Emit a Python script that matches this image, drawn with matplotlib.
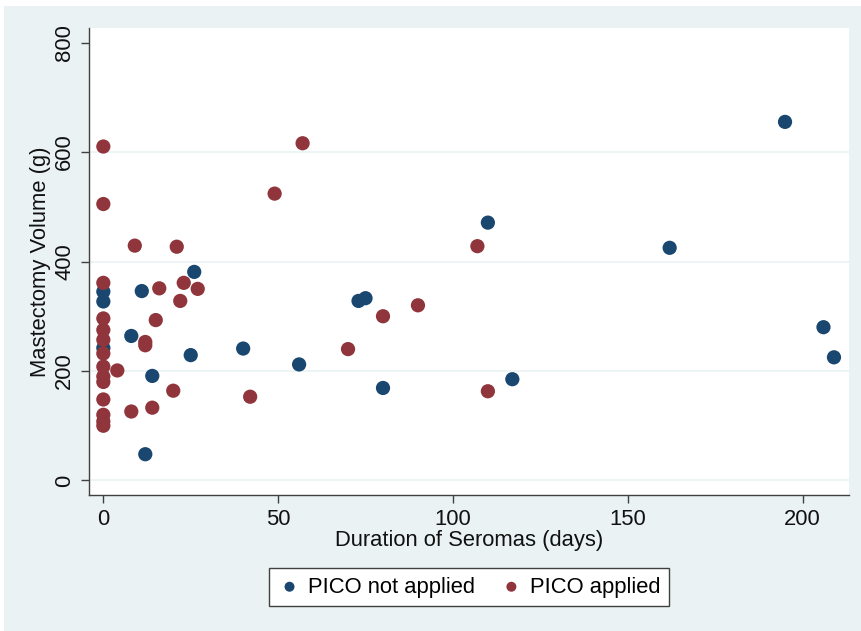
import matplotlib
matplotlib.use("Agg")
from matplotlib import pyplot as plt
from matplotlib.patches import Rectangle

plt.rcParams['font.family'] = ['Liberation Sans', 'DejaVu Sans']

# PICO not applied (duration in days, volume in g)
no_pico_days = [195, 162, 110, 206, 209, 117, 80, 75, 73, 56, 40, 26, 25, 14, 12, 11, 8, 0, 0, 0]
no_pico_vol = [655, 425, 471, 280, 225, 185, 169, 333, 328, 212, 241, 381, 229, 191, 48, 346, 264, 345, 327, 242]

# PICO applied
pico_days = [0, 0, 57, 49, 9, 21, 107, 0, 16, 23, 27, 22, 15, 0, 0, 0, 12, 12, 0, 4, 0, 0, 0,
             20, 42, 0, 8, 14, 0, 0, 0, 70, 80, 90, 110]
pico_vol = [610, 505, 616, 524, 429, 427, 428, 361, 351, 361, 350, 328, 293, 296, 275, 257, 253, 247,
            232, 201, 208, 190, 180, 164, 153, 148, 126, 133, 120, 108, 100, 240, 300, 320, 163]

blue = '#1a476f'
red = '#90353b'
bg = '#eaf2f3'
fs = 15.8

fig = plt.figure(figsize=(8.61, 6.31), dpi=100)
fig.patch.set_facecolor('white')
fig.patches.append(Rectangle((4 / 861, 0), 1, 1 - 6 / 631, transform=fig.transFigure,
                             facecolor=bg, edgecolor='none', zorder=-10))

ax = fig.add_axes([89 / 861, 1 - 495 / 631, (849 - 89) / 861, (495 - 28) / 631])
ax.set_facecolor('white')

for g in [0, 200, 400, 600]:
    ax.axhline(g, color=bg, lw=1.2, zorder=0)

ax.scatter(no_pico_days, no_pico_vol, s=105, color=blue, edgecolors='none', zorder=3, label='PICO not applied')
ax.scatter(pico_days, pico_vol, s=105, color=red, edgecolors='none', zorder=3, label='PICO applied')

ax.set_xlim(-4.1, 213.3)
ax.set_ylim(-26.5, 826.5)
ax.set_xticks([0, 50, 100, 150, 200])
ax.set_yticks([0, 200, 400, 600, 800])
ax.set_yticklabels(['0', '200', '400', '600', '800'], rotation=90, va='center')

for s in ['top', 'right']:
    ax.spines[s].set_visible(False)
for s in ['left', 'bottom']:
    ax.spines[s].set_color('#404040')
    ax.spines[s].set_linewidth(1.0)

ax.tick_params(axis='both', length=6, width=1, color='#404040', labelsize=fs, pad=4, labelcolor='#111111')
ax.set_xlabel('Duration of Seromas (days)', fontsize=fs, labelpad=0, color='#111111')
ax.set_ylabel('Mastectomy Volume (g)', fontsize=fs, labelpad=2, color='#111111')

h, l = ax.get_legend_handles_labels()
leg = fig.legend(h, l, loc='center', bbox_to_anchor=((89 + 849) / 2 / 861, 1 - 587 / 631),
                 ncol=2, fontsize=fs, frameon=True, fancybox=False, markerscale=0.7,
                 handletextpad=0.3, columnspacing=1.1, borderpad=0.4, borderaxespad=0,
                 handlelength=1.1)
leg.get_frame().set_edgecolor('#404040')
leg.get_frame().set_linewidth(1.0)
leg.get_frame().set_facecolor('white')
leg.get_frame().set_alpha(1)

fig.savefig('out.png', dpi=100, facecolor=fig.get_facecolor())
